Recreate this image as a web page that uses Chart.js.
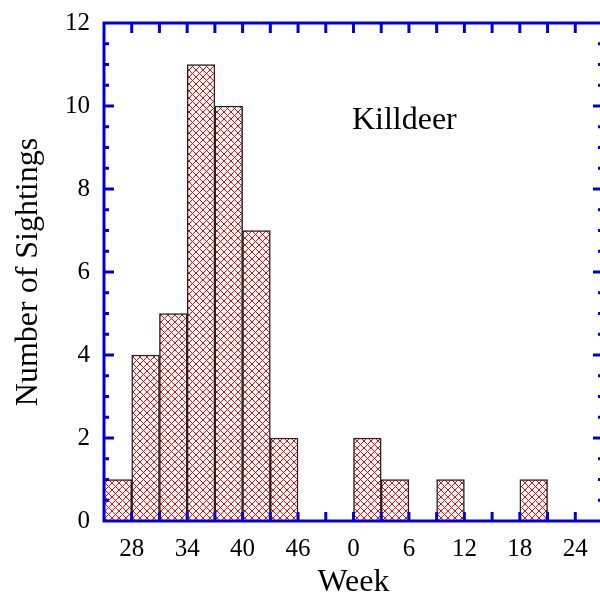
<!DOCTYPE html>
<html>
<head>
<meta charset="utf-8">
<script src="https://cdn.jsdelivr.net/npm/chart.js@4/dist/chart.umd.min.js"></script>
<style>
  html, body { margin: 0; padding: 0; background: #fff; overflow: hidden; }
  #wrap { width: 606px; height: 599px; }
</style>
</head>
<body>
<div id="wrap"><canvas id="grafico" width="606" height="599"></canvas></div>
<script>
// Datos: histograma de avistamientos por semana (bins de 3 semanas)
// las semanas > 52 son del año siguiente (52 = semana 0)
const binCenters = [26.5, 29.5, 32.5, 35.5, 38.5, 41.5, 44.5, 47.5, 50.5,
                    53.5, 56.5, 59.5, 62.5, 65.5, 68.5, 71.5, 74.5, 77.5];
const sightings  = [1, 4, 5, 11, 10, 7, 2, 0, 0,
                    2, 1, 0, 1, 0, 0, 1, 0, 0];
const weekTicks  = [28, 34, 40, 46, 52, 58, 64, 70, 76];
const yTicks     = [0, 2, 4, 6, 8, 10, 12];
const speciesLabel = 'Killdeer';

const AZUL = '#0000dd';
const FUENTE = '"Liberation Serif", "Times New Roman", serif';

// Patrón cuadriculado diagonal rojo
function crearPatron() {
    const c = document.createElement('canvas');
    c.width = 7;
    c.height = 7;
    const g = c.getContext('2d');
    g.fillStyle = '#fff';
    g.fillRect(0, 0, 7, 7);
    g.strokeStyle = '#ff0000';
    g.lineWidth = 1;
    g.beginPath();
    g.moveTo(0, 0); g.lineTo(7, 7);
    g.moveTo(7, 0); g.lineTo(0, 7);
    g.stroke();
    return g.createPattern(c, 'repeat');
}

// Marco azul con ticks hacia adentro y la etiqueta de la especie
const marcoPlugin = {
    id: 'marco',
    afterDraw(chart) {
        const { ctx, chartArea: a, scales } = chart;
        ctx.save();
        ctx.strokeStyle = AZUL;
        ctx.lineWidth = 3;
        ctx.lineCap = 'butt';

        ctx.beginPath();
        scales.x.ticks.forEach(t => {
            const px = scales.x.getPixelForValue(t.value);
            if (px <= a.left + 1 || px >= a.right - 1) return;
            ctx.moveTo(px, a.bottom); ctx.lineTo(px, a.bottom - 9);
            ctx.moveTo(px, a.top); ctx.lineTo(px, a.top + 10);
        });
        scales.y.ticks.forEach(t => {
            const py = scales.y.getPixelForValue(t.value);
            if (py <= a.top + 1 || py >= a.bottom - 1) return;
            const len = (t.value % 2 === 0) ? 10 : 5;
            ctx.moveTo(a.left, py); ctx.lineTo(a.left + len, py);
            ctx.moveTo(a.right, py); ctx.lineTo(a.right - len, py);
        });
        ctx.stroke();

        ctx.strokeRect(a.left, a.top, a.right - a.left, a.bottom - a.top);

        ctx.fillStyle = '#000';
        ctx.font = '32px ' + FUENTE;
        ctx.textAlign = 'center';
        ctx.textBaseline = 'alphabetic';
        ctx.fillText(speciesLabel, scales.x.getPixelForValue(57.5), scales.y.getPixelForValue(9.45));
        ctx.restore();
    }
};

const canvas = document.getElementById('grafico');
const patron = crearPatron();

new Chart(canvas, {
    type: 'bar',
    data: {
        datasets: [{
            data: binCenters.map((x, i) => ({ x: x, y: sightings[i] })),
            backgroundColor: patron,
            borderColor: '#222',
            borderWidth: 1.5,
            barPercentage: 1,
            categoryPercentage: 1
        }]
    },
    options: {
        responsive: false,
        animation: false,
        devicePixelRatio: 1,
        layout: { padding: { top: 23, right: 3, left: 0, bottom: 0 } },
        plugins: { legend: { display: false }, tooltip: { enabled: false } },
        scales: {
            x: {
                type: 'linear',
                min: 25,
                max: 79,
                offset: false,
                grid: { display: false, drawTicks: false, offset: false },
                border: { display: false },
                afterFit(scale) {
                    scale.height = 78;
                    scale.paddingLeft = 0;
                    scale.paddingRight = 0;
                },
                ticks: {
                    stepSize: 3,
                    autoSkip: false,
                    maxRotation: 0,
                    padding: 13,
                    color: '#000',
                    font: { family: FUENTE, size: 25 },
                    callback: v => weekTicks.includes(v) ? String(v >= 52 ? v - 52 : v) : ''
                },
                title: {
                    display: true,
                    text: 'Week',
                    color: '#000',
                    font: { family: FUENTE, size: 32 },
                    padding: { top: 0, bottom: -3 }
                }
            },
            y: {
                min: 0,
                max: 12,
                grid: { display: false, drawTicks: false },
                border: { display: false },
                afterFit(scale) {
                    scale.width = 104;
                    scale.paddingTop = 0;
                    scale.paddingBottom = 0;
                },
                ticks: {
                    stepSize: 0.5,
                    autoSkip: false,
                    padding: 14,
                    color: '#000',
                    font: { family: FUENTE, size: 25 },
                    callback: v => yTicks.includes(v) ? String(v) : ''
                },
                title: {
                    display: true,
                    text: 'Number of Sightings',
                    color: '#000',
                    font: { family: FUENTE, size: 32 },
                    padding: { top: 9, bottom: 0 }
                }
            }
        }
    },
    plugins: [marcoPlugin]
});
</script>
</body>
</html>
